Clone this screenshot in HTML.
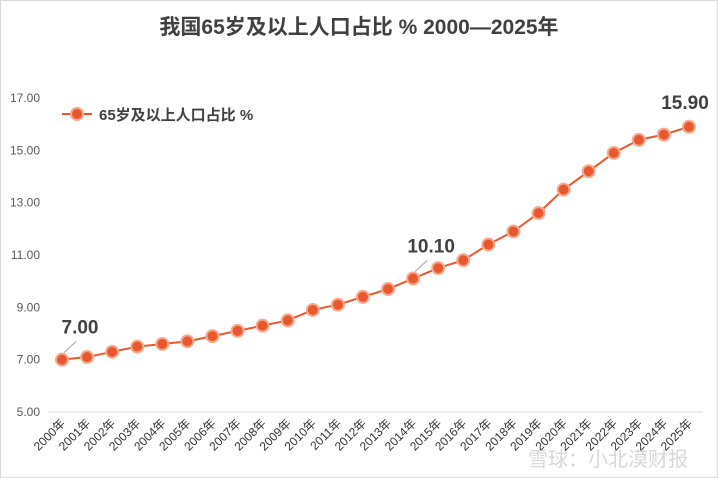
<!DOCTYPE html>
<html><head><meta charset="utf-8"><style>
body{margin:0;background:#fff}
svg{display:block;font-family:"Liberation Sans","Noto Sans CJK SC",sans-serif}
</style></head><body>
<svg id="chart" width="718" height="478" viewBox="0 0 718 478">
<rect x="0.5" y="0.5" width="717" height="477" fill="#fff" stroke="#d9d9d9"/>
<text x="359" y="34" text-anchor="middle" font-size="21" font-weight="bold" fill="#404040">我国65岁及以上人口占比 % 2000—2025年</text>
<g id="legend">
<line x1="62" y1="114" x2="92" y2="114" stroke="#E8582C" stroke-width="2"/>
<circle cx="77" cy="114" r="6" fill="#E8582C" stroke="#F5A98E" stroke-width="2"/>
<text x="99" y="120" font-size="15" font-weight="bold" fill="#404040">65岁及以上人口占比 %</text>
</g>
<g id="axes"></g>
<g id="series"></g>
<text x="528" y="466" font-size="20" fill="#c8c8c8" opacity="0.7">雪球：小北漠财报</text>
</svg>
<script>
const years=["2000年","2001年","2002年","2003年","2004年","2005年","2006年","2007年","2008年","2009年","2010年","2011年","2012年","2013年","2014年","2015年","2016年","2017年","2018年","2019年","2020年","2021年","2022年","2023年","2024年","2025年"];
const values=[7.0,7.1,7.3,7.5,7.6,7.7,7.9,8.1,8.3,8.5,8.9,9.1,9.4,9.7,10.1,10.5,10.8,11.4,11.9,12.6,13.5,14.2,14.9,15.4,15.6,15.9];
const yTicks=[5,7,9,11,13,15,17];
const labelIdx=[0,14,25];
const NS="http://www.w3.org/2000/svg";
const x0=62,x1=689,yTop=98,yBot=412,vMin=5,vMax=17;
const xs=i=>x0+(x1-x0)*i/(years.length-1);
const ys=v=>yBot-(v-vMin)/(vMax-vMin)*(yBot-yTop);
function mk(tag,attrs,parent){const e=document.createElementNS(NS,tag);for(const k in attrs)e.setAttribute(k,attrs[k]);parent.appendChild(e);return e;}
const ax=document.getElementById('axes'),se=document.getElementById('series');
const base=mk('line',{x1:48,x2:703,y1:yBot,y2:yBot,stroke:'#d9d9d9'},ax);


yTicks.forEach(t=>{const e=mk('text',{x:40,y:ys(t)+4,'text-anchor':'end','font-size':12,fill:'#595959'},ax);e.textContent=t.toFixed(2);

});
years.forEach((y,i)=>{const x=xs(i)+4,yy=yBot+12;const e=mk('text',{x:x,y:yy,'text-anchor':'end','font-size':12,fill:'#333',transform:`rotate(-45 ${x} ${yy})`},ax);e.textContent=y;

});
const line=mk('polyline',{points:values.map((v,i)=>xs(i)+','+ys(v)).join(' '),fill:'none',stroke:'#E8582C','stroke-width':2},se);


values.forEach((v,i)=>{const c=mk('circle',{cx:xs(i),cy:ys(v),r:6,fill:'#E8582C',stroke:'#F5A98E','stroke-width':2},se);

});
labelIdx.forEach(i=>{const x=xs(i),y=ys(values[i]);
const lx=i===25?x-4:x+18, ly=i===25?y-18:y-26;
if(i!==25){const l=mk('line',{x1:x+2,y1:y-7,x2:lx-4,y2:ly+8,stroke:'#a6a6a6'},se);

}
const t=mk('text',{x:lx,y:ly,'text-anchor':'middle','font-size':19,'font-weight':'bold',fill:'#404040'},se);t.textContent=values[i].toFixed(2);

});
</script>
</body></html>
